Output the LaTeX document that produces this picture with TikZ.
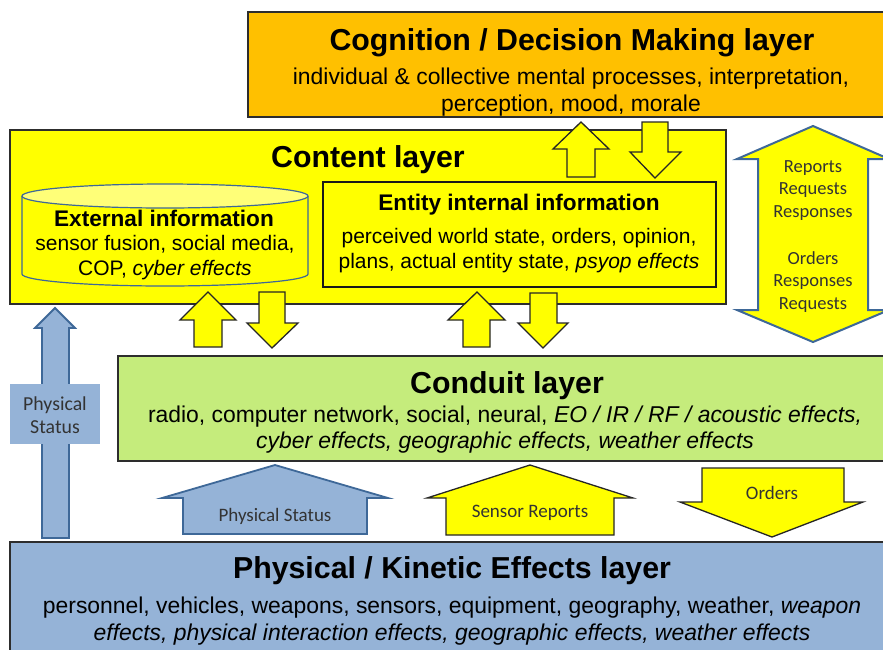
\documentclass[tikz,border=0pt]{standalone}
\usepackage{fontspec}
\setmainfont{Liberation Sans}
\newfontfamily\calib{Carlito}
\definecolor{cogfill}{RGB}{255,192,0}
\definecolor{yel}{RGB}{255,255,0}
\definecolor{yellite}{RGB}{255,255,120}
\definecolor{condfill}{RGB}{197,236,124}
\definecolor{physfill}{RGB}{149,179,215}
\definecolor{blueedge}{RGB}{62,104,152}
\definecolor{boxedge}{RGB}{45,45,45}
\begin{document}
\begin{tikzpicture}[x=1pt,y=-1pt,
 layerbox/.style={draw=boxedge,line width=1.4pt},
 yarrow/.style={draw=black!85,fill=yel,line width=1.3pt,line join=miter},
 barrow/.style={draw=blueedge,fill=physfill,line width=1.8pt,line join=miter},
 ttl/.style={font=\fontsize{30.3}{34}\selectfont\bfseries,inner sep=0pt},
 subttl/.style={font=\fontsize{22.6}{26}\selectfont\bfseries,inner sep=0pt},
 body/.style={font=\fontsize{21}{25}\selectfont,align=center,inner sep=0pt},
 bigbody/.style={font=\fontsize{22.9}{26.5}\selectfont,align=center,inner sep=0pt},
 lbl/.style={font=\calib\fontsize{19}{22.5}\selectfont,align=center,text=black!80,inner sep=0pt},
]
\useasboundingbox (0,0) rectangle (883,649);
\clip (0,0) rectangle (883,649);
\fill[white] (0,0) rectangle (883,649);

% layers
\draw[layerbox,fill=cogfill] (248,12) rectangle (896,117);
\draw[layerbox,fill=yel] (10,130) rectangle (726,304);
\draw[layerbox,fill=condfill] (118,356) rectangle (896,461);
\draw[layerbox,fill=physfill] (10,542) rectangle (894,665);

% cylinder
\draw[draw=blueedge,line width=1.2pt,fill=yel] (22,196) -- (22,274)
  arc[start angle=180,end angle=0,x radius=143,y radius=12] -- (308,196);
\draw[draw=blueedge,line width=1.2pt,fill=yellite] (165,196) ellipse[x radius=143,y radius=12];

% entity box
\draw[draw=black!90,line width=1.4pt,fill=yel] (323,182) rectangle (716,287);

% double arrow
\draw[draw=blueedge,fill=yel,line width=2pt,line join=miter]
 (813,126) -- (889,159) -- (868,159) -- (868,310) -- (889,310) -- (813,342)
 -- (737,310) -- (758,310) -- (758,159) -- (737,159) -- cycle;

% arrows cognition <-> content
\draw[yarrow] (581,122) -- (609,149) -- (595,149) -- (595,177) -- (567,177) -- (567,149) -- (553,149) -- cycle;
\draw[yarrow] (655,178) -- (681,152) -- (668,152) -- (668,122) -- (642,122) -- (642,152) -- (630,152) -- cycle;

% arrows content <-> conduit
\draw[yarrow] (208,292) -- (236,320) -- (222,320) -- (222,347) -- (194,347) -- (194,320) -- (180,320) -- cycle;
\draw[yarrow] (272,348) -- (298,323) -- (285,323) -- (285,292) -- (259,292) -- (259,323) -- (247,323) -- cycle;
\draw[yarrow] (477,292) -- (505,320) -- (490,320) -- (490,347) -- (463,347) -- (463,320) -- (448,320) -- cycle;
\draw[yarrow] (543,348) -- (568,323) -- (557,323) -- (557,293) -- (530,293) -- (530,323) -- (518,323) -- cycle;

% left physical status arrow
\draw[barrow] (55,308) -- (75,328) -- (69,328) -- (69,538) -- (42,538) -- (42,328) -- (35,328) -- cycle;
\fill[physfill] (10,384) rectangle (100,444);
\node[lbl,font=\calib\fontsize{19.8}{23}\selectfont] (psleft) at (55,415.5) {Physical\\Status};

% bottom arrows
\draw[barrow] (275,465) -- (388,498) -- (367,498) -- (367,534) -- (183,534) -- (183,498) -- (162,498) -- cycle;
\draw[yarrow] (530,465) -- (633,498) -- (614,498) -- (614,535) -- (446,535) -- (446,498) -- (427,498) -- cycle;
\draw[yarrow] (772,537) -- (863,502) -- (844,502) -- (844,468) -- (702,468) -- (702,502) -- (680,502) -- cycle;
\node[lbl] (psbot) at (275,516) {Physical Status};
\node[lbl] (sensor) at (530,513) {Sensor Reports};
\node[lbl] (orders) at (772,493) {Orders};

% double arrow text
\node[lbl,font=\calib\fontsize{18.5}{22.5}\selectfont] (reports) at (813,190.5) {Reports\\Requests\\Responses};
\node[lbl,font=\calib\fontsize{18.5}{22.5}\selectfont] (ordersr) at (813,282) {Orders\\Responses\\Requests};

% texts
\node[ttl] (cogT) at (572,43) {Cognition / Decision Making layer};
\node[bigbody,font=\fontsize{22.9}{27}\selectfont] (cogB) at (571,92) {individual \& collective mental processes, interpretation,\\perception, mood, morale};
\node[ttl] (conT) at (368,160) {Content layer};
\node[subttl] (extT) at (164,218) {External information};
\node[body] (extB) at (165,257.5) {sensor fusion, social media,\\COP, \textit{cyber effects}};
\node[subttl] (entT) at (519,205) {Entity internal information};
\node[body] (entB) at (519,250.5) {perceived world state, orders, opinion,\\plans, actual entity state, \textit{psyop effects}};
\node[ttl] (cndT) at (507,386) {Conduit layer};
\node[bigbody] (cndB) at (505,429.5) {radio, computer network, social, neural, \textit{EO / IR / RF / acoustic effects,}\\\textit{cyber effects, geographic effects, weather effects}};
\node[ttl] (phyT) at (452,571) {Physical / Kinetic Effects layer};
\node[bigbody,font=\fontsize{22.9}{27}\selectfont] (phyB) at (452,621) {personnel, vehicles, weapons, sensors, equipment, geography, weather, \textit{weapon}\\\textit{effects, physical interaction effects, geographic effects, weather effects}};
\end{tikzpicture}
\end{document}
